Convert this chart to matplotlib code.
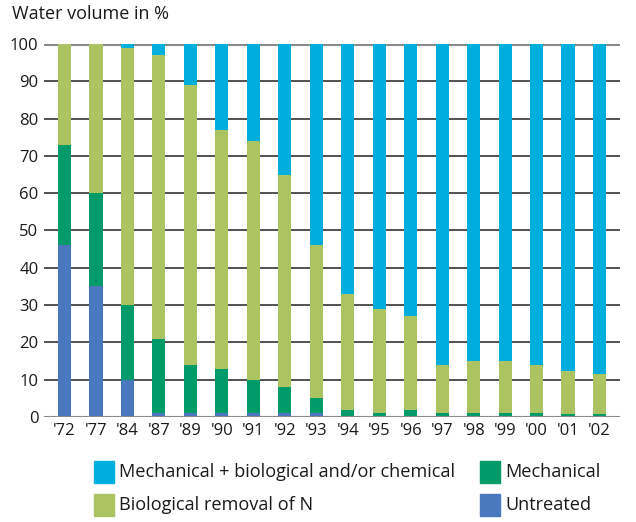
import matplotlib
matplotlib.use("Agg")
import matplotlib.pyplot as plt
from matplotlib.patches import Rectangle
import numpy as np

plt.rcParams['font.family'] = ['Open Sans', 'DejaVu Sans']

years = ["'72", "'77", "'84", "'87", "'89", "'90", "'91", "'92", "'93", "'94", "'95", "'96", "'97", "'98", "'99", "'00", "'01", "'02"]
untreated = [46, 35, 10, 1, 1, 1, 1, 1, 1, 0, 0, 0, 0, 0, 0, 0, 0, 0]
mechanical = [27, 25, 20, 20, 13, 12, 9, 7, 4, 2, 1, 2, 1, 1, 1, 1, 0.7, 0.7]
bio_n = [27, 40, 69, 76, 75, 64, 64, 57, 41, 31, 28, 25, 13, 14, 14, 13, 11.6, 10.9]
mech_bio_chem = [0, 0, 1, 3, 11, 23, 26, 35, 54, 67, 71, 73, 86, 85, 85, 86, 87.7, 88.4]

labels = ['Mechanical + biological and/or chemical', 'Biological removal of N', 'Mechanical', 'Untreated']

c_chem = '#00AEDD'
c_mech = '#009B69'
c_bio = '#ABC461'
c_unt = '#4A78BE'

W, H = 636, 522
fig = plt.figure(figsize=(W/100, H/100), dpi=100)
ax = fig.add_axes([44/W, 1-417/H, (620-44)/W, (417-44)/H])

x = np.arange(len(years))
w = 0.42
u = np.array(untreated); m = np.array(mechanical); b = np.array(bio_n); c = np.array(mech_bio_chem)
ax.bar(x, u, w, color=c_unt, zorder=3)
ax.bar(x, m, w, bottom=u, color=c_mech, zorder=3)
ax.bar(x, b, w, bottom=u+m, color=c_bio, zorder=3)
ax.bar(x, c, w, bottom=u+m+b, color=c_chem, zorder=3)

for yv in range(10, 100, 10):
    ax.axhline(yv, color='#444444', lw=1.3, zorder=1)
ax.axhline(100, color='#8a8a8a', lw=2.2, zorder=1)
ax.axhline(0, color='#8a8a8a', lw=1.5, zorder=4)

ax.set_ylim(0, 100)
ax.set_xlim(-0.65, len(years) - 0.35)
ax.set_yticks(range(0, 101, 10))
ax.set_xticks(x)
ax.set_xticklabels(years)
ax.tick_params(length=0, labelsize=12, colors='#1a1a1a', pad=4)
for s in ax.spines.values():
    s.set_visible(False)

fig.text(12/W, 1-14/H, 'Water volume in %', fontsize=13, color='#1a1a1a', va='center', ha='left')

# legend (manual, two columns)
cols = [c_chem, c_bio, c_mech, c_unt]
pos = [(94, 472), (94, 505), (480, 472), (480, 505)]
for lab, col, (px, py) in zip(labels, cols, pos):
    fig.patches.append(Rectangle((px/W, 1-(py+11)/H), 20/W, 22/H, color=col, transform=fig.transFigure))
    fig.text((px+25)/W, 1-py/H, lab, fontsize=13.1, color='#1a1a1a', va='center', ha='left')

fig.savefig('out.png', dpi=100)
